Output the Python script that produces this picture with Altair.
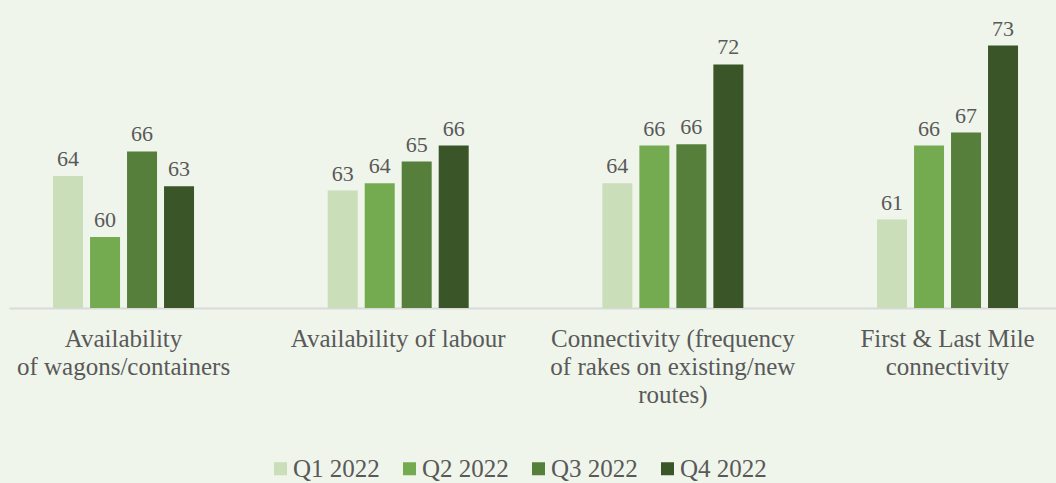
import altair as alt
import pandas as pd

categories = [
    "Availability of wagons/containers",
    "Availability of labour",
    "Connectivity (frequency of rakes on existing/new routes)",
    "First & Last Mile connectivity",
]
category_lines = [
    ["Availability", "of wagons/containers"],
    ["Availability of labour"],
    ["Connectivity (frequency", "of rakes on existing/new", "routes)"],
    ["First & Last Mile", "connectivity"],
]
quarters = ["Q1 2022", "Q2 2022", "Q3 2022", "Q4 2022"]
colors = ["#C9DEB9", "#75AB50", "#557F3A", "#3A5528"]

q1 = [64.1, 63.1, 63.6, 61.1]
q2 = [59.9, 63.6, 66.2, 66.2]
q3 = [65.8, 65.1, 66.3, 67.1]
q4 = [63.4, 66.2, 71.8, 73.1]

rows = []
for qi, (q, vals) in enumerate(zip(quarters, [q1, q2, q3, q4])):
    for c, v in zip(categories, vals):
        rows.append({"category": c, "quarter": q, "value": v})
df = pd.DataFrame(rows)

# label expression producing multi-line labels
expr = "''"
for c, lines in reversed(list(zip(categories, category_lines))):
    arr = "[" + ",".join("'" + l + "'" for l in lines) + "]"
    expr = f"datum.value == '{c}' ? {arr} : ({expr})"

FONT = "Liberation Serif"
GREY = "#595959"

x = alt.X("category:N", sort=categories, title=None,
          scale=alt.Scale(paddingInner=0.4867, paddingOuter=0.1493, align=0.537),
          axis=alt.Axis(labelExpr=expr, labelAngle=0, ticks=False,
                        labelFont=FONT, labelFontSize=25, labelColor=GREY,
                        labelLineHeight=28, labelPadding=18, labelLimit=400,
                        domainColor="#D9D9D9", domainWidth=2, labelBaseline="top"))
xo = alt.XOffset("quarter:N", sort=quarters,
                 scale=alt.Scale(paddingInner=0.1892, paddingOuter=0))
y = alt.Y("value:Q", scale=alt.Scale(domain=[55, 75], zero=False, nice=False), axis=None)

bars = alt.Chart(df).mark_bar().encode(
    x=x, xOffset=xo, y=y, y2=alt.datum(55),
    color=alt.Color("quarter:N", sort=quarters,
                    scale=alt.Scale(domain=quarters, range=colors),
                    legend=alt.Legend(orient="none", legendX=259, legendY=438,
                                      direction="horizontal", columns=4, title=None,
                                      symbolType="square", symbolSize=169,
                                      symbolStrokeWidth=0, labelFont=FONT,
                                      labelFontSize=25, labelColor=GREY,
                                      columnPadding=17, labelOffset=0, padding=0)),
)

labels = alt.Chart(df).mark_text(baseline="bottom", dy=-5, font=FONT,
                                 fontSize=22, color=GREY).encode(
    x=x, xOffset=xo, y=y, text=alt.Text("value:Q", format=".0f"),
)

chart = alt.layer(bars, labels).properties(
    width=1047, height=290, background="#EFF5EB",
    padding={"left": 9, "top": 18, "right": 0, "bottom": 175},
    autosize=alt.AutoSizeParams(type="none"),
).configure_view(stroke=None)

chart.save("out.html", embed_options={"renderer": "svg", "actions": False})
